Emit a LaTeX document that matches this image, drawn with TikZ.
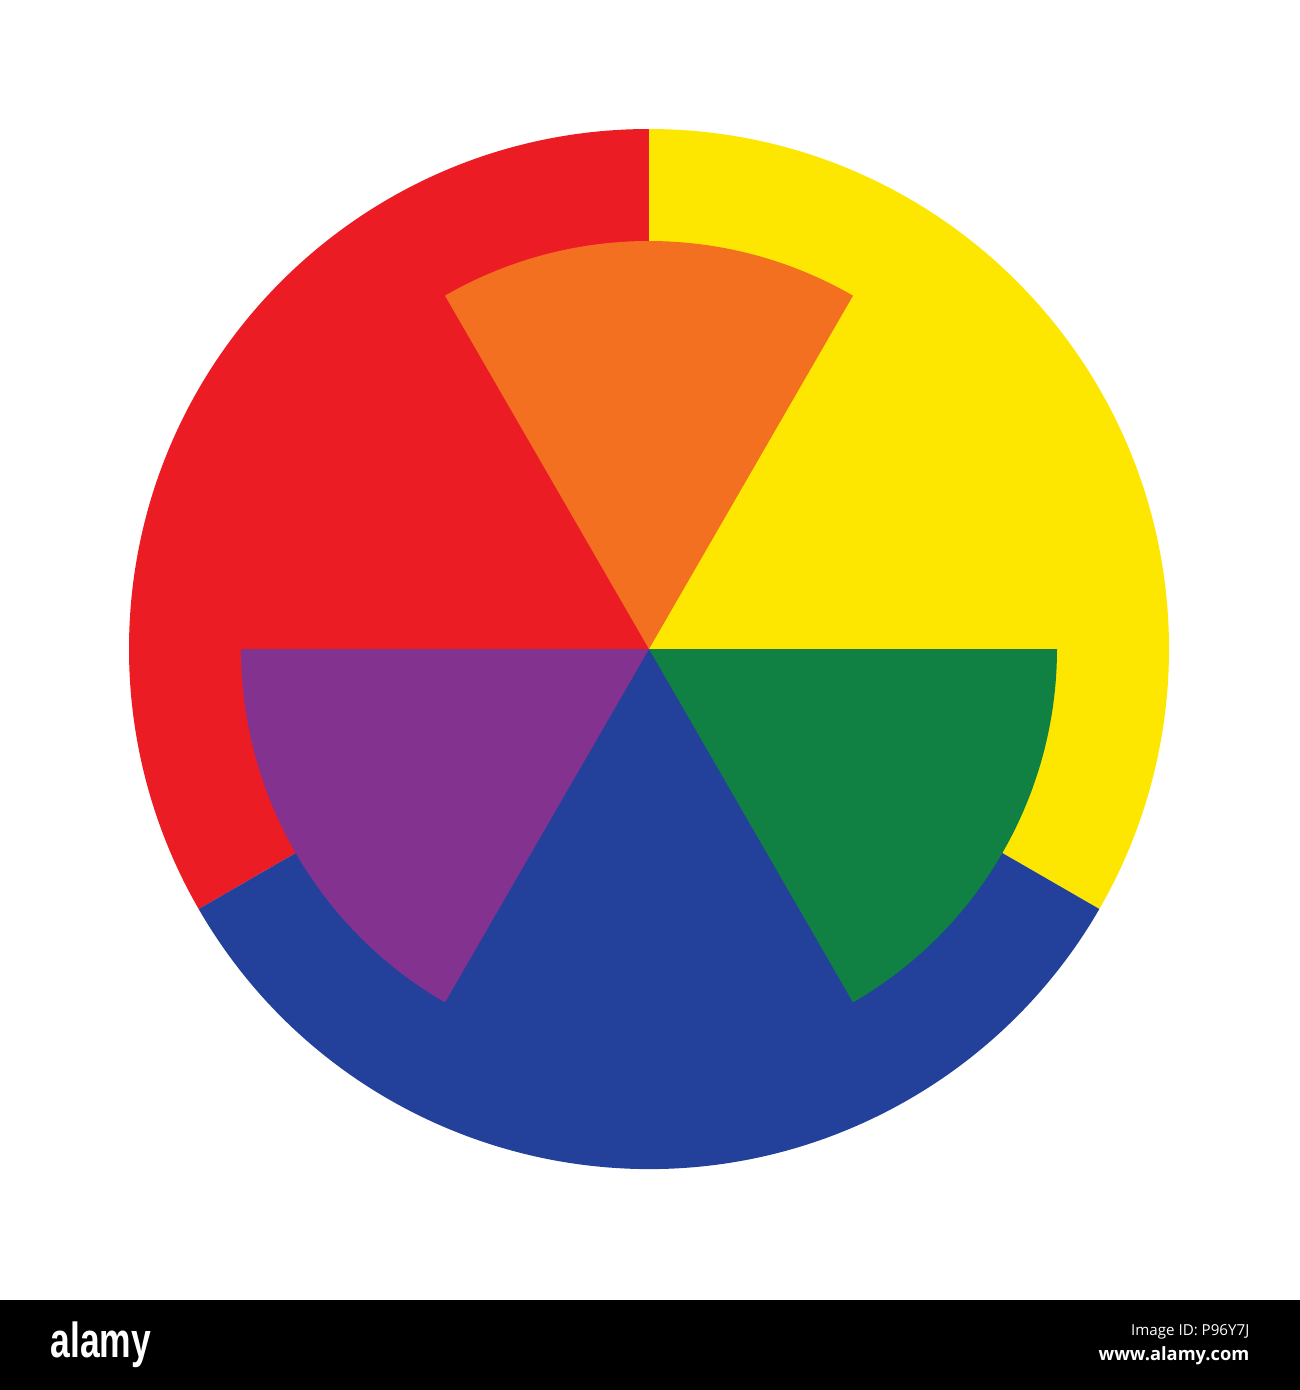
\documentclass[tikz,border=0pt]{standalone}
\usepackage{fontspec}
\usetikzlibrary{calc}
\newfontfamily\barfont{Liberation Sans}
\newfontfamily\idfont{Open Sans}
\definecolor{wred}{HTML}{EC1C24}
\definecolor{wyellow}{HTML}{FDE700}
\definecolor{wblue}{HTML}{23419A}
\definecolor{worange}{HTML}{F37021}
\definecolor{wgreen}{HTML}{108043}
\definecolor{wpurple}{HTML}{84328F}
\begin{document}
\begin{tikzpicture}[x=0.01cm,y=-0.01cm]
\tikzset{barlogo/.style={text=white,font=\barfont\bfseries\fontsize{14pt}{14pt}\selectfont,xscale=0.72,inner sep=0},
 idtext/.style={text=white,font=\idfont\fontsize{4.3pt}{5pt}\selectfont,inner sep=0,anchor=east}}
\useasboundingbox (0,0) rectangle (1300,1390);
\fill[white] (0,0) rectangle (1300,1390);
\coordinate (c) at (649,649);
% outer sectors
\fill[wred] (c) -- ($(c)+(270:520)$) arc[start angle=270,end angle=150,radius=520] -- cycle;
\fill[wyellow] (c) -- ($(c)+(270:520)$) arc[start angle=270,end angle=390,radius=520] -- cycle;
\fill[wblue] (c) -- ($(c)+(150:520)$) arc[start angle=150,end angle=30,radius=520] -- cycle;
% inner sectors
\fill[worange] (c) -- ($(c)+(240:408)$) arc[start angle=240,end angle=300,radius=408] -- cycle;
\fill[wgreen] (c) -- ($(c)+(0:408)$) arc[start angle=0,end angle=60,radius=408] -- cycle;
\fill[wpurple] (c) -- ($(c)+(120:408)$) arc[start angle=120,end angle=180,radius=408] -- cycle;
% bottom bar
\fill[black] (0,1300) rectangle (1300,1390);
\node[barlogo,anchor=west] (logo) at (50,1345) {alamy};
\node[idtext] (imgid) at (1250,1332) {Image ID: P96Y7J};
\node[idtext,font=\idfont\bfseries\fontsize{5.2pt}{6pt}\selectfont] (web) at (1250,1356) {www.alamy.com};
\end{tikzpicture}
\end{document}
